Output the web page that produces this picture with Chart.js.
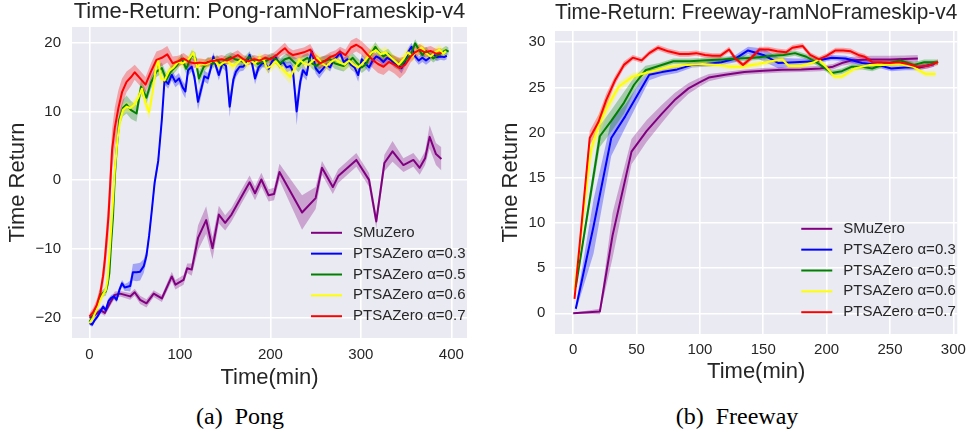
<!DOCTYPE html>
<html>
<head>
<meta charset="utf-8">
<script src="https://cdn.jsdelivr.net/npm/chart.js@4/dist/chart.umd.min.js"></script>
<style>
  html, body { margin: 0; padding: 0; background: #ffffff; }
  body { width: 973px; height: 433px; position: relative; overflow: hidden; }
  #w1 { position: absolute; left: 0; top: 0; }
  #w2 { position: absolute; left: 486px; top: 0; }
  .cap { position: absolute; top: 404px; height: 24px; line-height: 24px; font-family: "Liberation Serif", "Times New Roman", serif; font-size: 24px; color: #000; text-align: center; white-space: pre; }
</style>
</head>
<body>
<div id="w1"><canvas id="c1" width="486" height="395"></canvas></div>
<div id="w2"><canvas id="c2" width="487" height="395"></canvas></div>
<div class="cap" style="left:140px;width:200px;">(a)  Pong</div>
<div class="cap" style="left:637px;width:200px;">(b)  Freeway</div>
<script>
// ---------------- Labels ----------------
const seriesLabels = ['SMuZero', 'PTSAZero \u03b1=0.3', 'PTSAZero \u03b1=0.5', 'PTSAZero \u03b1=0.6', 'PTSAZero \u03b1=0.7'];
const pongTitle = 'Time-Return: Pong-ramNoFrameskip-v4';
const freewayTitle = 'Time-Return: Freeway-ramNoFrameskip-v4';
const pongXTicks = [0, 100, 200, 300, 400];
const pongYTicks = [-20, -10, 0, 10, 20];
const fwXTicks = [0, 50, 100, 150, 200, 250, 300];
const fwYTicks = [0, 5, 10, 15, 20, 25, 30];

// ---------------- Pong data (time in min, mean return, band half-width) ----------------
const pongSMuZeroTime = [0,6,12,17,23,28,34,45,50,56, 63,71,80,91,95,104,108,113,120,129, 136,143,150,157,168,177,183,190,198,204, 210,235,250,257,269,275,295,309,317,326, 335,347,358,365,371,376,383,389];
const pongSMuZeroMean = [-20.0,-19.6,-18.9,-19.3,-17.8,-16.7,-16.5,-16.9,-16.3,-17.4, -17.9,-16.5,-17.2,-14.0,-15.2,-14.5,-12.8,-13.0,-8.4,-5.8, -9.9,-5.0,-6.2,-5.0,-2.4,-0.3,-1.9,0.1,-2.2,-2.0, 1.2,-4.7,-2.6,1.8,-1.0,0.6,2.95,0.05,-6.0,2.5, 4.2,2.2,2.95,1.8,3.2,6.3,3.8,3.1];
const pongSMuZeroSpread = [0.3,0.4,0.4,0.4,0.5,0.5,0.4,0.5,0.5,0.6, 0.6,0.5,0.5,0.7,0.7,0.7,0.7,0.9,1.8,2.0, 1.6,1.3,1.1,1.0,1.0,1.0,1.0,1.0,0.9,0.9, 1.2,2.5,1.6,1.0,1.0,1.0,1.0,1.0,1.0,1.2, 1.5,1.0,1.0,1.0,1.0,1.7,1.6,1.7];

const pongA3Time = [0,3,6,9,12,15,18,21,24,27, 30,33,36,39,42,45,48,52,56,60, 63,66,69,72,76,80,83,87,91,95, 99,103,106,109,113,116,120,124,127,131, 134,137,140,143,147,151,155,159,162,166, 170,174,177,180,183,187,191,194,198,202, 206,210,214,218,222,225,229,233,236,240, 243,246,250,254,258,262,266,270,274,277, 281,285,289,293,297,301,305,309,313,317, 321,325,329,333,337,341,345,349,352,356, 360,364,368,372,376,380,384,388,392,395];
const pongA3Mean = [-20.8,-21.0,-20.3,-19.8,-19.1,-18.4,-18.9,-17.6,-17.1,-16.9, -17.4,-16.0,-15.0,-15.6,-15.5,-15.4,-13.4,-13.4,-13.3,-12.5, -11.0,-8.0,-4.3,-0.4,2.8,8.8,14.6,14.0,15.3,14.3, 14.8,13.5,12.9,16.0,16.5,15.0,11.4,13.5,15.1,14.8, 16.2,18.0,16.5,15.3,17.0,16.6,10.7,14.6,15.8,16.5, 16.5,17.2,18.2,16.8,14.8,16.4,17.0,17.0,16.2,17.3, 17.8,16.8,17.2,16.4,16.6,15.8,10.0,14.3,16.0,15.3, 17.5,18.7,16.3,15.6,16.2,16.8,16.4,17.5,18.0,18.5, 17.2,17.6,16.8,16.4,15.3,17.6,17.0,16.4,17.4,18.0, 17.7,17.2,17.8,17.5,17.0,16.8,16.3,17.3,18.6,19.4, 18.0,17.4,17.8,17.4,17.8,18.4,17.9,18.0,17.9,18.1];
const pongA3Spread = [0.3,0.3,0.3,0.3,0.4,0.4,0.4,0.4,0.4,0.4, 0.4,0.5,0.5,0.5,0.6,0.8,1.2,1.3,1.3,1.0, 0.8,0.8,0.8,0.8,0.8,0.8,0.7,0.7,0.8,0.8, 0.8,0.9,1.0,0.8,0.7,0.8,1.2,1.0,0.8,0.8, 0.7,0.6,0.7,0.8,0.7,0.8,1.5,1.0,0.8,0.7, 0.6,0.6,0.6,0.7,0.9,0.7,0.6,0.6,0.7,0.6, 0.6,0.6,0.6,0.7,0.7,0.9,2.0,1.2,0.9,0.8, 0.7,0.6,0.8,0.8,0.7,0.6,0.6,0.6,0.6,0.6, 0.6,0.6,0.7,0.7,1.0,0.7,0.7,0.7,0.7,0.6, 0.6,0.7,0.6,0.6,0.6,0.7,0.8,0.7,0.6,0.6, 0.6,0.6,0.6,0.6,0.6,0.6,0.6,0.5,0.5,0.5];

const pongA5Time = [0,4,8,12,15,18,20,22,24,26, 28,30,33,37,41,46,52,57,63,68, 74,80,85,90,96,102,107,113,117,121, 126,131,136,141,146,151,156,161,166,171, 176,181,186,191,196,201,206,211,216,221, 226,231,236,241,246,251,256,261,266,271, 276,281,286,291,296,301,306,311,316,320, 325,330,335,340,345,350,355,360,364,368, 372,376,380,385,390,394,397];
const pongA5Mean = [-20.6,-19.8,-18.6,-16.8,-16.4,-16.2,-15.2,-13.5,-9.0,-5.3, 0.5,4.4,8.8,10.5,11.0,10.2,9.7,13.6,12.0,14.2, 15.8,16.3,14.6,15.8,16.6,17.7,16.2,18.2,17.8,14.8, 16.4,17.2,16.9,17.5,16.8,17.6,17.9,17.6,17.4,17.2, 17.9,17.4,16.9,17.2,17.4,17.8,17.6,17.0,17.6,17.8, 17.2,16.6,17.4,17.8,17.0,16.6,17.2,17.4,17.6,17.0, 16.8,16.6,17.2,17.8,17.0,16.4,16.9,18.3,19.4,18.6, 18.0,18.4,17.6,17.0,16.8,17.6,18.2,19.9,19.0,18.2, 18.8,18.2,17.7,18.2,18.6,18.9,18.7];
const pongA5Spread = [0.4,0.4,0.5,0.5,0.5,0.6,0.7,0.8,1.0,1.0, 1.0,1.0,1.0,1.2,1.3,1.3,1.2,1.0,0.9,0.9, 0.8,0.8,0.9,0.8,0.7,0.7,0.8,0.7,0.8,1.0, 0.8,0.7,0.7,0.7,0.7,0.7,0.7,0.7,0.7,0.7, 0.7,0.7,0.7,0.7,0.7,0.7,0.7,0.7,0.7,0.7, 0.8,0.9,0.8,0.7,0.8,0.9,0.8,0.7,0.7,0.8, 0.8,0.8,0.8,0.7,0.8,0.8,0.8,0.7,0.7,0.7, 0.7,0.7,0.7,0.8,0.8,0.7,0.7,0.6,0.6,0.6, 0.6,0.6,0.6,0.6,0.6,0.6,0.6];

const pongA6Time = [0,4,8,12,15,18,20,22,24,26, 28,31,34,37,41,45,49,54,58,62, 66,70,73,76,79,83,88,93,98,103, 109,115,119,123,128,133,138,143,148,153, 158,163,168,173,178,183,188,193,196,201, 206,211,216,222,227,232,237,242,247,252, 257,262,267,272,277,282,287,292,297,302, 307,312,317,322,327,332,337,342,347,352, 357,362,367,372,377,382,387,391,394];
const pongA6Mean = [-20.8,-20.0,-18.8,-17.4,-16.6,-16.0,-14.5,-11.0,-7.0,-3.0, 1.5,6.0,8.8,10.2,10.7,10.5,10.9,12.0,13.3,11.2, 9.9,13.0,16.0,17.5,14.8,14.5,15.9,16.4,17.2,17.0, 17.5,18.5,16.4,17.0,16.8,17.1,17.5,16.6,17.1,17.3, 16.6,17.0,17.6,16.8,17.4,17.0,17.8,17.4,16.3,16.6, 17.3,16.5,15.8,15.0,16.3,17.5,17.0,16.8,17.4,17.8, 17.0,16.6,17.2,17.6,17.1,16.8,17.4,16.8,16.4,17.0, 17.8,18.6,18.9,18.3,18.6,18.0,17.4,16.8,17.6,18.6, 18.0,18.8,19.3,18.5,18.0,18.6,19.0,18.4,18.8];
const pongA6Spread = [0.3,0.3,0.4,0.4,0.5,0.5,0.6,0.7,0.8,0.8, 0.8,0.8,0.8,0.8,0.7,0.7,0.7,0.8,0.8,1.0, 1.0,0.9,0.8,0.8,0.8,0.8,0.7,0.7,0.7,0.7, 0.7,0.7,0.7,0.7,0.7,0.7,0.7,0.7,0.7,0.7, 0.7,0.7,0.7,0.7,0.7,0.7,0.7,0.7,0.8,0.8, 0.8,0.8,0.9,1.0,0.9,0.8,0.8,0.8,0.8,0.8, 0.8,0.8,0.8,0.8,0.8,0.9,0.9,0.9,0.9,0.9, 0.9,0.9,0.8,0.8,0.8,0.8,0.8,0.9,0.8,0.8, 0.8,0.8,0.7,0.7,0.7,0.7,0.7,0.7,0.7];

const pongA7Time = [0,4,8,12,15,17,19,21,23,25, 28,32,36,41,46,50,56,62,68,74, 80,86,92,98,104,110,116,122,128,134, 140,146,152,158,164,170,176,182,188,194, 200,207,212,216,220,225,231,237,244,250, 255,261,266,272,277,283,289,295,301,307, 313,319,325,331,337,343,349,355,360,365, 371,377,383,389];
const pongA7Mean = [-19.8,-19.2,-18.2,-16.4,-14.0,-11.6,-8.5,-5.3,-0.5,4.4, 7.6,10.5,12.8,14.3,15.0,15.7,14.8,13.9,15.8,17.5, 17.8,18.3,17.0,17.3,17.7,17.2,17.0,17.1,17.0,17.3, 17.4,17.6,17.4,17.8,18.2,17.6,17.3,17.6,17.4,17.8, 17.6,18.2,18.8,19.2,18.6,18.2,18.4,18.6,19.0,17.6, 17.0,17.4,17.9,18.2,18.7,18.2,19.3,19.7,19.2,18.3, 17.5,16.9,16.5,17.2,16.8,16.3,16.8,18.0,18.6,19.0, 18.6,18.8,18.4,18.5];
const pongA7Spread = [0.5,0.6,0.8,1.0,1.5,2.0,2.5,3.0,3.0,3.0, 3.0,2.6,2.0,1.5,1.3,1.1,1.1,1.1,1.2,1.2, 1.2,1.2,1.0,0.8,0.8,0.7,0.7,0.6,0.6,0.6, 0.6,0.6,0.6,0.7,0.7,0.6,0.6,0.6,0.6,0.6, 0.6,0.7,0.7,0.8,0.7,0.7,0.7,0.7,0.8,0.8, 0.8,0.8,0.7,0.7,0.7,0.8,1.0,1.0,1.0,1.1, 1.2,1.3,1.2,1.2,1.3,1.5,1.2,0.9,0.8,0.8, 0.7,0.7,0.7,0.7];

// ---------------- Freeway data ----------------
const fwSMuZeroTime = [0,21,31,46,58,70,80,91,100,107,120,135,150,165,180,195,205,212,220,235,250,262,272];
const fwSMuZeroMean = [0,0.2,8.6,17.9,20.2,22.1,23.6,24.9,25.6,26.1,26.4,26.7,26.85,26.95,27.0,27.1,27.3,27.7,28.0,28.1,28.1,28.15,28.2];
const fwSMuZeroSpread = [0.05,0.3,2.5,1.4,1.2,1.0,0.8,0.6,0.5,0.4,0.3,0.3,0.3,0.3,0.3,0.3,0.3,0.3,0.4,0.4,0.4,0.4,0.4];

const fwA3Time = [2,16,30,41,50,60,70,82,94,105,117,128,138,150,162,175,190,204,215,228,240,251,262,273,285];
const fwA3Mean = [0.5,9.6,19.4,21.8,24.0,26.4,26.7,27.0,27.5,27.6,27.8,28.2,29.1,28.6,27.7,27.8,27.9,28.3,28.2,27.7,27.5,27.1,27.2,27.2,27.6];
const fwA3Spread = [0.3,3.0,2.0,1.3,1.0,0.6,0.4,0.4,0.3,0.3,0.3,0.4,0.4,0.7,0.6,0.4,0.3,0.3,0.3,0.3,0.3,0.3,0.3,0.3,0.3];

const fwA5Time = [2,21,30,40,48,57,68,79,92,105,118,130,143,157,166,175,184,194,204,212,220,228,236,246,258,269,277,288];
const fwA5Mean = [2.9,19.6,21.3,23.3,25.3,26.9,27.4,27.9,27.9,28.0,28.1,28.2,28.3,28.5,28.6,28.8,28.4,27.6,26.6,26.8,27.3,27.3,27.1,27.6,28.0,27.5,27.8,27.8];
const fwA5Spread = [0.3,1.2,1.2,1.2,0.8,0.5,0.3,0.3,0.3,0.3,0.3,0.3,0.3,0.3,0.3,0.3,0.3,0.3,0.3,0.3,0.3,0.3,0.3,0.3,0.3,0.3,0.3,0.3];

const fwA6Time = [1,14,20,27,36,47,57,68,78,90,102,115,124,133,146,156,165,170,180,190,194,200,206,212,222,234,245,257,268,278,286];
const fwA6Mean = [2.6,18.1,20.8,22.9,25.1,26.2,26.6,27.0,27.3,27.5,27.6,27.5,27.3,27.3,27.6,27.9,28.1,27.4,27.4,27.8,28.1,27.2,26.2,26.2,27.1,27.5,27.5,27.6,27.3,26.5,26.5];
const fwA6Spread = [0.3,1.0,1.2,0.8,0.5,0.4,0.3,0.3,0.3,0.3,0.3,0.3,0.3,0.3,0.3,0.3,0.3,0.3,0.3,0.3,0.3,0.3,0.3,0.3,0.3,0.3,0.3,0.3,0.3,0.3,0.3];

const fwA7Time = [1,13,20,26,33,40,47,54,60,67, 75,84,91,97,104,110,116,123,128,134, 140,147,154,161,168,173,181,187,194,200, 207,213,219,225,230,236,243,250,257,264, 272,280,288];
const fwA7Mean = [1.6,19.4,21.2,23.6,25.8,27.5,28.3,28.0,28.8,29.4, 29.0,28.7,28.7,28.8,28.6,28.5,28.5,29.2,28.2,27.5, 28.2,29.2,29.2,29.0,28.9,29.4,29.6,28.6,28.1,28.5, 29.1,29.1,29.0,28.6,28.4,27.8,27.8,27.7,27.8,27.6, 27.3,27.4,27.8];
const fwA7Spread = [0.4,0.8,0.8,0.7,0.5,0.4,0.3,0.3,0.3,0.3, 0.3,0.3,0.3,0.3,0.3,0.3,0.3,0.3,0.3,0.3, 0.3,0.3,0.3,0.3,0.3,0.3,0.3,0.3,0.3,0.3, 0.3,0.3,0.3,0.3,0.3,0.3,0.3,0.3,0.3,0.3, 0.3,0.3,0.3];

// ---------------- Styling ----------------
const seriesColors = ['#800080', '#0000ff', '#008000', '#ffff00', '#ff0000'];
const bandColors = ['rgba(128,0,128,0.3)', 'rgba(0,0,255,0.3)', 'rgba(0,128,0,0.3)', 'rgba(255,255,0,0.3)', 'rgba(255,0,0,0.3)'];
const TEXT = '#262626';
Chart.defaults.font.family = '"Liberation Sans", Arial, sans-serif';
Chart.defaults.color = TEXT;

function buildDatasets(series) {
  const ds = [];
  series.forEach((s, i) => {
    const lower = s.time.map((t, k) => ({ x: t, y: s.mean[k] - s.spread[k] }));
    const upper = s.time.map((t, k) => ({ x: t, y: s.mean[k] + s.spread[k] }));
    const mean = s.time.map((t, k) => ({ x: t, y: s.mean[k] }));
    ds.push({ data: lower, borderWidth: 0, pointRadius: 0, fill: false, order: 20 + (5 - i) * 2 });
    ds.push({ data: upper, borderWidth: 0, pointRadius: 0, fill: '-1', backgroundColor: bandColors[i], order: 20 + (5 - i) * 2 });
    ds.push({ label: seriesLabels[i], legendItem: true, data: mean, borderColor: seriesColors[i], borderWidth: 2, pointRadius: 0, fill: false, order: 5 - i, borderJoinStyle: 'round' });
  });
  return ds;
}

const plotBg = {
  id: 'plotBg',
  beforeDraw(chart) {
    const { ctx, chartArea: a } = chart;
    ctx.save();
    ctx.fillStyle = '#eaeaf2';
    ctx.fillRect(a.left, a.top, a.right - a.left, a.bottom - a.top);
    ctx.restore();
  }
};

const inlineLegend = {
  id: 'inlineLegend',
  afterDatasetsDraw(chart, args, opts) {
    const { ctx, chartArea: a } = chart;
    const items = chart.data.datasets.filter(d => d.legendItem);
    ctx.save();
    ctx.font = '15px "Liberation Sans", Arial, sans-serif';
    ctx.textBaseline = 'middle';
    ctx.textAlign = 'left';
    const x0 = a.right - opts.right;
    let y = a.bottom - opts.bottom - (items.length - 1) * opts.rowH;
    items.forEach(d => {
      ctx.strokeStyle = d.borderColor;
      ctx.lineWidth = 2;
      ctx.beginPath();
      ctx.moveTo(x0, y);
      ctx.lineTo(x0 + opts.lineLen, y);
      ctx.stroke();
      ctx.fillStyle = TEXT;
      ctx.fillText(d.label, x0 + opts.textGap, y);
      y += opts.rowH;
    });
    ctx.restore();
  }
};

const minusFmt = v => (v < 0 ? '\u2212' + Math.abs(v) : String(v));

function makeChart(canvasId, g) {
  return new Chart(document.getElementById(canvasId), {
    type: 'line',
    data: { datasets: buildDatasets(g.series) },
    plugins: [plotBg, inlineLegend],
    options: {
      responsive: false,
      animation: false,
      devicePixelRatio: 1,
      parsing: true,
      layout: { padding: { left: 0, top: 0, right: g.padRight, bottom: g.padBottom } },
      plugins: {
        legend: { display: false },
        tooltip: { enabled: false },
        filler: { propagate: false },
        title: {
          display: true, text: g.title, fullSize: false, color: TEXT,
          font: { size: 22, weight: 'normal', lineHeight: 1.1 },
          padding: { top: g.titleTop, bottom: g.titleBottom }
        },
        inlineLegend: { right: 156, bottom: 21.8, rowH: 20.85, lineLen: 31, textGap: 42 }
      },
      scales: {
        x: {
          type: 'linear', min: g.xMin, max: g.xMax,
          afterFit: s => { s.height = g.xAxisH; },
          afterBuildTicks: s => { s.ticks = g.xTicks.map(v => ({ value: v })); },
          grid: { color: '#ffffff', lineWidth: 1.6, drawTicks: false },
          border: { display: false },
          ticks: { padding: g.xTickPad, color: TEXT, font: { size: 15 }, maxRotation: 0, callback: minusFmt },
          title: { display: true, text: 'Time(min)', color: TEXT, font: { size: 22 }, padding: { top: 0, bottom: g.xTitlePad } }
        },
        y: {
          type: 'linear', min: g.yMin, max: g.yMax,
          afterFit: s => { s.width = g.yAxisW; },
          afterBuildTicks: s => { s.ticks = g.yTicks.map(v => ({ value: v })); },
          grid: { color: '#ffffff', lineWidth: 1.6, drawTicks: false },
          border: { display: false },
          ticks: { padding: g.yTickPad, color: TEXT, font: { size: 15 }, callback: minusFmt },
          title: { display: true, text: 'Time Return', color: TEXT, font: { size: 22 }, padding: { top: g.yTitlePad, bottom: 0 } }
        }
      }
    }
  });
}

makeChart('c1', {
  title: pongTitle,
  series: [
    { time: pongSMuZeroTime, mean: pongSMuZeroMean, spread: pongSMuZeroSpread },
    { time: pongA3Time, mean: pongA3Mean, spread: pongA3Spread },
    { time: pongA5Time, mean: pongA5Mean, spread: pongA5Spread },
    { time: pongA6Time, mean: pongA6Mean, spread: pongA6Spread },
    { time: pongA7Time, mean: pongA7Mean, spread: pongA7Spread }
  ],
  xMin: -19.3, xMax: 417.3, yMin: -22.95, yMax: 22.28,
  xTicks: pongXTicks, yTicks: pongYTicks,
  padRight: 19, padBottom: 1, titleTop: 0, titleBottom: 2.8,
  xAxisH: 56, yAxisW: 72, xTickPad: 8, xTitlePad: 2.8, yTickPad: 11, yTitlePad: 4.8
});

makeChart('c2', {
  title: freewayTitle,
  series: [
    { time: fwSMuZeroTime, mean: fwSMuZeroMean, spread: fwSMuZeroSpread },
    { time: fwA3Time, mean: fwA3Mean, spread: fwA3Spread },
    { time: fwA5Time, mean: fwA5Mean, spread: fwA5Spread },
    { time: fwA6Time, mean: fwA6Mean, spread: fwA6Spread },
    { time: fwA7Time, mean: fwA7Mean, spread: fwA7Spread }
  ],
  xMin: -14.4, xMax: 303.1, yMin: -2.29, yMax: 31.25,
  xTicks: fwXTicks, yTicks: fwYTicks,
  padRight: 13.7, padBottom: 5, titleTop: 0.4, titleBottom: 6.4,
  xAxisH: 56, yAxisW: 69, xTickPad: 7, xTitlePad: 5.1, yTickPad: 9.7, yTitlePad: 11.8
});
</script>
</body>
</html>
